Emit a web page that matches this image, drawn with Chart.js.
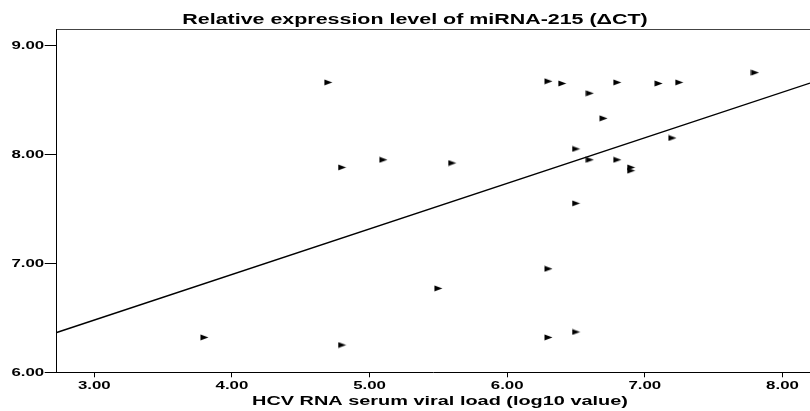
<!DOCTYPE html>
<html>
<head>
<meta charset="utf-8">
<script src="https://cdn.jsdelivr.net/npm/chart.js@4.4.1/dist/chart.umd.min.js"></script>
<style>
  html, body { margin: 0; padding: 0; background: #fff; }
  #wrap { width: 810px; height: 411px; }
</style>
</head>
<body>
<div id="wrap"><canvas id="grafico" width="810" height="411"></canvas></div>
<script>
// viral load (log10) and delta CT for each patient
const viralLoad = [
  4.7, 4.8, 5.1, 5.6, 6.3, 6.4, 6.8, 7.1, 7.25, 7.8,
  6.6, 6.7, 7.2, 6.5, 6.6, 6.8, 6.9, 6.9, 6.5,
  6.3, 5.5, 3.8, 4.8, 6.3, 6.5
];
const deltaCT = [
  8.66, 7.88, 7.95, 7.92, 8.67, 8.65, 8.66, 8.65, 8.66, 8.75,
  8.56, 8.33, 8.15, 8.05, 7.95, 7.95, 7.88, 7.85, 7.55,
  6.95, 6.77, 6.32, 6.25, 6.32, 6.37
];

// linear fit line, two ends
const fitX = [2.727, 8.2];
const fitY = [6.365, 8.654];

const xTicks = [3, 4, 5, 6, 7, 8];
const yTicks = [6, 7, 8, 9];

const chartTitle = 'Relative expression level of miRNA-215 (\u0394CT)';
const xTitle = 'HCV RNA serum viral load (log10 value)';

const FONT = 'Arial, "Liberation Sans", sans-serif';
const STRETCH = 1.53; // text is drawn wide

// flat right-pointing triangle marker
function makeMarker() {
  const c = document.createElement('canvas');
  c.width = 9;
  c.height = 7;
  const g = c.getContext('2d');
  g.fillStyle = '#000';
  g.beginPath();
  g.moveTo(0.5, 0.5);
  g.lineTo(8.5, 3.5);
  g.lineTo(0.5, 6.5);
  g.closePath();
  g.fill();
  return c;
}

function wideText(ctx, text, x, y, size, align) {
  ctx.save();
  ctx.translate(x, y);
  ctx.scale(STRETCH, 1);
  ctx.font = 'bold ' + size + 'px ' + FONT;
  ctx.textAlign = align;
  ctx.textBaseline = 'alphabetic';
  ctx.fillStyle = '#000';
  ctx.fillText(text, 0, 0);
  ctx.restore();
}

const points = viralLoad.map((v, i) => ({ x: v, y: deltaCT[i] }));
const fitLine = fitX.map((v, i) => ({ x: v, y: fitY[i] }));

// titles, tick labels and the top frame line
const decor = {
  id: 'decor',
  afterDraw(chart) {
    const ctx = chart.ctx;
    const a = chart.chartArea;
    const sx = chart.scales.x;
    const sy = chart.scales.y;
    ctx.save();
    ctx.strokeStyle = '#444';
    ctx.lineWidth = 1;
    ctx.beginPath();
    ctx.moveTo(a.left, a.top + 0.5);
    ctx.lineTo(a.right, a.top + 0.5);
    ctx.stroke();
    ctx.restore();

    xTicks.forEach(v => {
      wideText(ctx, v.toFixed(2), sx.getPixelForValue(v), a.bottom + 17, 11, 'center');
    });
    yTicks.forEach(v => {
      wideText(ctx, v.toFixed(2), a.left - 12.5, sy.getPixelForValue(v) + 4, 11, 'right');
    });

    wideText(ctx, chartTitle, 415, 24, 14, 'center');
    wideText(ctx, xTitle, 440, 405, 13, 'center');
  }
};

const ctx2 = document.getElementById('grafico').getContext('2d');

new Chart(ctx2, {
  type: 'scatter',
  data: {
    datasets: [{
      label: 'patients',
      data: points,
      pointStyle: makeMarker(),
      pointRadius: 4,
      backgroundColor: '#000',
      borderColor: '#000'
    }, {
      type: 'line',
      label: 'fit',
      data: fitLine,
      borderColor: '#000',
      borderWidth: 1.4,
      pointRadius: 0,
      fill: false,
      tension: 0
    }]
  },
  options: {
    responsive: false,
    animation: false,
    layout: { autoPadding: false, padding: { top: 29, right: 0, left: 0, bottom: 0 } },
    plugins: {
      legend: { display: false },
      title: { display: false },
      tooltip: { enabled: false }
    },
    scales: {
      x: {
        type: 'linear',
        min: 2.727,
        max: 8.2,
        afterBuildTicks: (s) => { s.ticks = xTicks.map(v => ({ value: v })); },
        afterFit: (s) => { s.height = 38.7; s.paddingLeft = 0; s.paddingRight = 0; },
        ticks: { display: false },
        grid: {
          drawOnChartArea: false,
          drawTicks: true,
          tickLength: 5,
          color: '#000'
        },
        border: { display: true, color: '#000', width: 1 }
      },
      y: {
        type: 'linear',
        min: 6,
        max: 9.15,
        afterBuildTicks: (s) => { s.ticks = yTicks.map(v => ({ value: v })); },
        afterFit: (s) => { s.width = 56.7; s.paddingTop = 0; s.paddingBottom = 0; },
        ticks: { display: false },
        grid: {
          drawOnChartArea: false,
          drawTicks: true,
          tickLength: 12,
          color: '#000'
        },
        border: { display: true, color: '#000', width: 1 }
      }
    }
  },
  plugins: [decor]
});
</script>
</body>
</html>
